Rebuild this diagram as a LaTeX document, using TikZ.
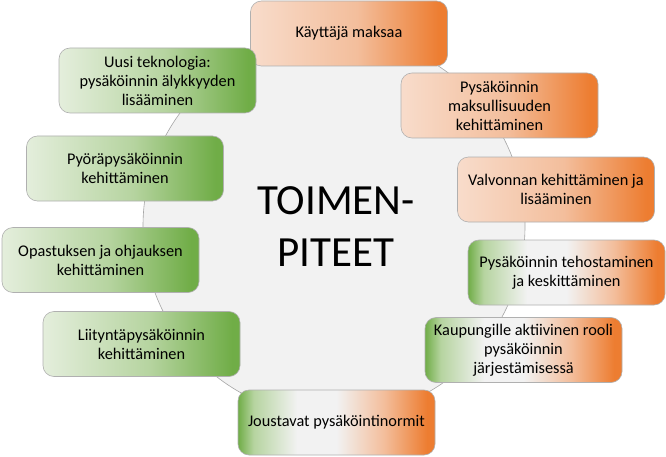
\documentclass[tikz,border=0pt]{standalone}
\usepackage{fontspec}
\setmainfont{Carlito}
\usepackage{tikz}
\usetikzlibrary{positioning}

\definecolor{ringfill}{HTML}{F2F2F2}
\definecolor{ringline}{HTML}{A6A6A6}
\definecolor{boxline}{HTML}{B0B0B0}
\definecolor{oL}{HTML}{F8DCCB}
\definecolor{oM}{HTML}{F3BE9C}
\definecolor{oR}{HTML}{ED7D31}
\definecolor{gL}{HTML}{E4EEDC}
\definecolor{gM}{HTML}{B6D4A0}
\definecolor{gR}{HTML}{70AD47}
\definecolor{mW}{HTML}{F2F2F2}

\pgfdeclarehorizontalshading{orangebox}{100bp}{color(0bp)=(oL); color(25bp)=(oL); color(52bp)=(oM); color(73bp)=(oR); color(100bp)=(oR)}
\pgfdeclarehorizontalshading{greenbox}{100bp}{color(0bp)=(gL); color(25bp)=(gL); color(52bp)=(gM); color(73bp)=(gR); color(100bp)=(gR)}
\pgfdeclarehorizontalshading{mixedbox}{100bp}{color(0bp)=(gR); color(25bp)=(gR); color(29bp)=(gM); color(40bp)=(mW); color(50bp)=(mW); color(62bp)=(oM); color(73bp)=(oR); color(100bp)=(oR)}

\begin{document}
\begin{tikzpicture}[x=1pt,y=1pt]
\tikzset{
  tbox/.style={draw=boxline, line width=0.6pt, rounded corners=11pt,
    minimum width=197pt, minimum height=65pt, align=center,
    font=\fontsize{16.3}{19}\selectfont},
  obox/.style={tbox, shading=orangebox},
  gbox/.style={tbox, shading=greenbox},
  mbox/.style={tbox, shading=mixedbox}
}
\useasboundingbox (0,0) rectangle (666,456);
\fill [white] (0,0) rectangle (666,456);
\node [circle, fill=ringfill, draw=ringline, line width=0.6pt, minimum size=382pt] (ring) at (334,230) {};
\node [align=center, font=\fontsize{43}{52}\selectfont] (title) at (336,229) {TOIMEN-\\PITEET};
\node [obox] (maksaa) at (349,422.5) {Käyttäjä maksaa};
\node [gbox] (teknologia) at (157.5,375.5) {Uusi teknologia:\\pysäköinnin älykkyyden\\lisääminen};
\node [obox] (maksullisuus) at (499.5,350.5) {Pysäköinnin\\maksullisuuden\\kehittäminen};
\node [gbox] (pyora) at (125,287.5) {Pyöräpysäköinnin\\kehittäminen};
\node [obox] (valvonta) at (556,266.5) {Valvonnan kehittäminen ja\\lisääminen};
\node [gbox] (opastus) at (100.5,196) {Opastuksen ja ohjauksen\\kehittäminen};
\node [mbox] (tehostus) at (566.5,183.5) {Pysäköinnin tehostaminen\\ja keskittäminen};
\node [gbox] (liitynta) at (141.5,112) {Liityntäpysäköinnin\\kehittäminen};
\node [mbox] (rooli) at (523.5,106) {Kaupungille aktiivinen rooli\\pysäköinnin\\järjestämisessä};
\node [mbox] (normit) at (336.5,33.5) {Joustavat pysäköintinormit};
\end{tikzpicture}
\end{document}
